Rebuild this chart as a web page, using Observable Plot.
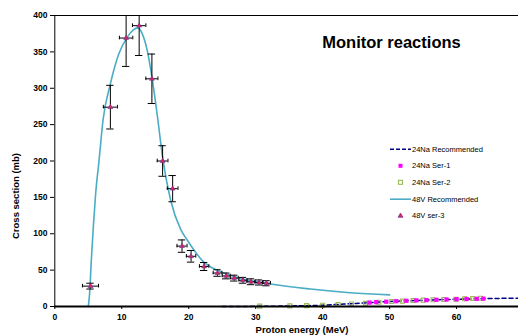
<!DOCTYPE html>
<html><head><meta charset="utf-8">
<script src="https://cdn.jsdelivr.net/npm/d3@7"></script>
<script src="https://cdn.jsdelivr.net/npm/@observablehq/plot@0.6"></script>
<style>body{margin:0;background:#fff;font-family:"Liberation Sans",Arial,sans-serif}</style>
</head><body><div id="chart"></div>
<script>
// 48V ser-3 measured points
const v48E    = [5.33, 8.3, 10.65, 12.6, 14.5, 16.1, 17.6, 19.0, 20.35, 22.3, 24.3, 25.6, 26.8, 28.1, 29.3, 30.5, 31.6];
const v48Y    = [28, 274, 369, 386, 313, 200, 162, 83, 69, 55, 46, 42, 39, 36, 34, 33, 32];
const v48Yerr = [4, 30, 39, 41, 34, 21, 18, 8.5, 8, 5.5, 4.5, 4, 4, 4, 4, 3.5, 3.5];
const v48Xerr = [1.2, 1.05, 1.0, 1.0, 0.9, 0.8, 0.8, 0.75, 0.7, 0.7, 0.65, 0.6, 0.6, 0.6, 0.6, 0.6, 0.6];
// 48V Recommended curve
const v48RecE = [5.0, 5.2, 5.45, 5.75, 6.1, 6.6, 7.2, 8.3, 9.55, 10.8, 11.7, 12.4, 13.1, 13.8, 14.8, 15.4, 16.1, 17.3, 18.8, 19.8, 22.25, 24.5, 27.2, 32.2, 38.2, 44.1, 50];
const v48RecY = [0, 18, 63, 109, 155, 200, 256, 306, 347, 370, 380, 383, 374, 352, 297, 256, 205, 146, 106, 91, 61, 49, 40, 31, 24, 19, 16];
// 24Na Recommended curve
const naRecE = [25, 30, 35, 40, 42.5, 45, 47.5, 50, 55, 60, 65, 70];
const naRecY = [0, 0.2, 0.7, 1.8, 3, 4.2, 5.6, 6.9, 8.6, 10, 10.9, 11.6];
// 24Na Ser-1
const na1E = [47.0, 48.0, 49.5, 51.0, 52.5, 54.0, 55.5, 57.0, 58.5, 60.0, 61.5, 63.0, 64.0];
const na1Y = [5.4, 6.0, 6.6, 7.3, 7.9, 8.4, 8.8, 9.2, 9.6, 10.0, 10.3, 10.6, 10.8];
// 24Na Ser-2
const na2E = [30.6, 35.1, 37.6, 40.0, 42.3, 44.3, 46.4, 48.4, 50.3, 51.9, 53.5, 55.0, 56.5, 58.1, 59.9, 61.2, 62.4, 63.6];
const na2Y = [0.5, 0.8, 1.2, 1.8, 2.8, 3.5, 4.5, 5.9, 6.9, 7.4, 8.2, 8.8, 9.2, 9.7, 10.0, 10.6, 11.0, 11.4];
// axis ticks
const xTicks = [0, 10, 20, 30, 40, 50, 60];
const yTicks = [0, 50, 100, 150, 200, 250, 300, 350, 400];

const v48 = v48E.map((e, i) => ({e, y: v48Y[i], ye: v48Yerr[i], xe: v48Xerr[i]}));
const v48Rec = v48RecE.map((e, i) => ({e, y: v48RecY[i]}));
const naRec = naRecE.map((e, i) => ({e, y: naRecY[i]}));
const na1 = na1E.map((e, i) => ({e, y: na1Y[i]}));
const na2 = na2E.map((e, i) => ({e, y: na2Y[i]}));

const capX = 0.55, capY = 5;
const tickFont = {fontSize: 8.5, fontWeight: "bold"};

const chart = Plot.plot({
  width: 518, height: 335,
  marginLeft: 54, marginTop: 15, marginBottom: 29, marginRight: 0,
  style: {fontFamily: "Liberation Sans, Arial, sans-serif", background: "#fff", overflow: "hidden"},
  x: {domain: [0, 69.25], range: [54.3, 518]},
  y: {domain: [0, 400], range: [306, 15]},
  marks: [
    Plot.axisY({ticks: yTicks, tickSize: 4, tickPadding: 3, label: null, ...tickFont, fill: "#000"}),
    Plot.axisX({ticks: xTicks, tickSize: 3, tickPadding: 4, label: null, ...tickFont, fill: "#000"}),
    Plot.ruleY([400], {stroke: "#000", strokeWidth: 1}),
    Plot.ruleX([0], {stroke: "#000", strokeWidth: 1}),
    // 24Na recommended
    Plot.line(naRec, {x: "e", y: "y", stroke: "#000080", strokeWidth: 1.5, strokeDasharray: "4,3", curve: "monotone-x"}),
    // 48V recommended
    Plot.line(v48Rec, {x: "e", y: "y", stroke: "#4BACC6", strokeWidth: 1.6, curve: "monotone-x"}),
    // error bars
    Plot.ruleX(v48, {x: "e", y1: d => d.y - d.ye, y2: d => Math.min(400, d.y + d.ye), stroke: "#000", strokeWidth: 1}),
    Plot.ruleY(v48, {y: "y", x1: d => d.e - d.xe, x2: d => d.e + d.xe, stroke: "#000", strokeWidth: 1}),
    Plot.ruleY(v48, {y: d => d.y - d.ye, x1: d => d.e - capX, x2: d => d.e + capX, stroke: "#000", strokeWidth: 1}),
    Plot.ruleY(v48.filter(d => d.y + d.ye < 400), {y: d => d.y + d.ye, x1: d => d.e - capX, x2: d => d.e + capX, stroke: "#000", strokeWidth: 1}),
    Plot.ruleX(v48, {x: d => d.e - d.xe, y1: d => d.y - capY * 0.5, y2: d => d.y + capY * 0.5, stroke: "#000", strokeWidth: 1}),
    Plot.ruleX(v48, {x: d => d.e + d.xe, y1: d => d.y - capY * 0.5, y2: d => d.y + capY * 0.5, stroke: "#000", strokeWidth: 1}),
    // 24Na series
    Plot.dot(na2, {x: "e", y: "y", symbol: "square", r: 2.2, stroke: "#9BBB59", strokeWidth: 1.2, fill: "none"}),
    Plot.dot(na1, {x: "e", y: "y", symbol: "square", r: 2.4, fill: "#FF00FF", stroke: "none"}),
    // 48V points
    Plot.dot(v48, {x: "e", y: "y", symbol: "triangle", r: 1.8, fill: "#E0205A", stroke: "#7A3A9A", strokeWidth: 0.7}),
    Plot.ruleY([0], {stroke: "#000", strokeWidth: 2})
  ]
});
document.getElementById("chart").appendChild(chart);

const svg = d3.select(chart);
svg.append("text").attr("x", 391.5).attr("y", 47.5).attr("text-anchor", "middle")
  .attr("font-size", 16.5).attr("font-weight", "bold").attr("fill", "#000").text("Monitor reactions");
svg.append("text").attr("x", 302).attr("y", 333).attr("text-anchor", "middle")
  .attr("font-size", 9.5).attr("font-weight", "bold").attr("fill", "#000").text("Proton energy (MeV)");
svg.append("text").attr("transform", "translate(19,196) rotate(-90)").attr("text-anchor", "middle")
  .attr("font-size", 9.5).attr("font-weight", "bold").attr("fill", "#000").text("Cross section (mb)");

const legendNames = ["24Na Recommended", "24Na Ser-1", "24Na Ser-2", "48V Recommended", "48V ser-3"];
const legendY = [149.3, 165.8, 182.3, 199.2, 215.5];
const lg = svg.append("g").attr("text-anchor", "start");
legendNames.forEach((name, i) => {
  const y = legendY[i];
  if (i === 0) lg.append("line").attr("x1", 390).attr("x2", 411).attr("y1", y).attr("y2", y)
      .attr("stroke", "#000080").attr("stroke-width", 1.5).attr("stroke-dasharray", "4,2");
  if (i === 3) lg.append("line").attr("x1", 390).attr("x2", 411).attr("y1", y).attr("y2", y)
      .attr("stroke", "#4BACC6").attr("stroke-width", 1.6);
  if (i === 1) lg.append("rect").attr("x", 398.5).attr("y", y - 2).attr("width", 4).attr("height", 4).attr("fill", "#FF00FF");
  if (i === 2) lg.append("rect").attr("x", 398.5).attr("y", y - 2).attr("width", 4).attr("height", 4).attr("fill", "none").attr("stroke", "#9BBB59").attr("stroke-width", 1.1);
  if (i === 4) lg.append("path").attr("d", `M400.5,${y-2.5}L403,${y+1.8}L398,${y+1.8}Z`).attr("fill", "#E0205A").attr("stroke", "#7A3A9A").attr("stroke-width", 0.7);
  lg.append("text").attr("x", 412).attr("y", y).attr("dy", "0.35em").attr("text-anchor", "start")
    .attr("font-size", 7.5).attr("fill", "#000").text(name);
});
</script></body></html>
